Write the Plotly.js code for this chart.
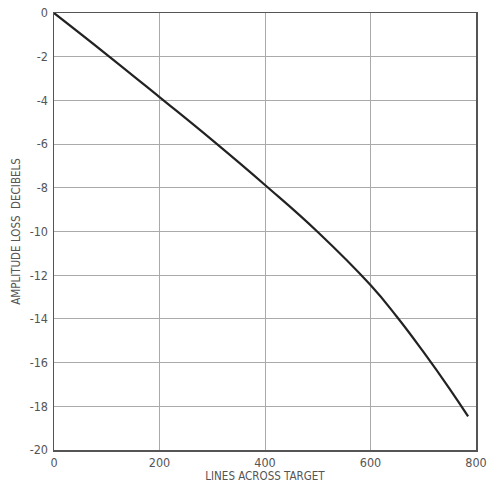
<!DOCTYPE html>
<html>
<head>
<meta charset="utf-8">
<script src="https://cdn.plot.ly/plotly-3.0.1.min.js"></script>
<style>html,body{margin:0;padding:0;background:#fff;}#chart{width:502px;height:483px;}</style>
</head>
<body>
<div id="chart"></div>
<script>
const linesAcrossTarget = [0, 100, 200, 300, 400, 500, 600, 650, 700, 750, 785];
const amplitudeLossDb   = [0, -1.9, -3.85, -5.82, -7.87, -10.02, -12.45, -13.9, -15.5, -17.2, -18.46];
const xTickVals = [0, 200, 400, 600, 800];
const xTickText = ['0', '200', '400', '600', '800'];
const yTickVals = [0, -2, -4, -6, -8, -10, -12, -14, -16, -18, -20];
const yTickText = ['0', '-2', '-4', '-6', '-8', '-10', '-12', '-14', '-16', '-18', '-20'];

const trace = {
  x: linesAcrossTarget,
  y: amplitudeLossDb,
  type: 'scatter',
  mode: 'lines',
  line: {color: '#222', width: 2.2, shape: 'spline', smoothing: 1.3},
  hoverinfo: 'skip'
};

const fam = 'DejaVu Sans Condensed, DejaVu Sans, sans-serif';
const tickFont = {family: fam, size: 12.5, color: '#555'};
const layout = {
  width: 502, height: 483,
  margin: {l: 54, r: 26, t: 13, b: 33},
  paper_bgcolor: '#fff', plot_bgcolor: '#fff',
  showlegend: false,
  xaxis: {
    range: [0, 800], tickvals: xTickVals, ticktext: xTickText,
    showgrid: true, gridcolor: '#aaa', gridwidth: 1,
    showline: true, linecolor: '#555', linewidth: 1.5, mirror: true,
    zeroline: false, ticks: '', tickfont: tickFont, ticklabelstandoff: 0,
    title: {text: 'LINES ACROSS TARGET', font: {family: fam, size: 11.5, color: '#555'}, standoff: 0}
  },
  yaxis: {
    range: [-20, 0], tickvals: yTickVals, ticktext: yTickText,
    showgrid: true, gridcolor: '#aaa', gridwidth: 1,
    showline: true, linecolor: '#555', linewidth: 1.5, mirror: true,
    zeroline: false, ticks: '', tickfont: tickFont, ticklabelstandoff: 2,
    title: {text: 'AMPLITUDE LOSS  DECIBELS', font: {family: fam, size: 11.5, color: '#555'}, standoff: 6}
  }
};

Plotly.newPlot('chart', [trace], layout, {displayModeBar: false, staticPlot: true});
</script>
</body>
</html>
